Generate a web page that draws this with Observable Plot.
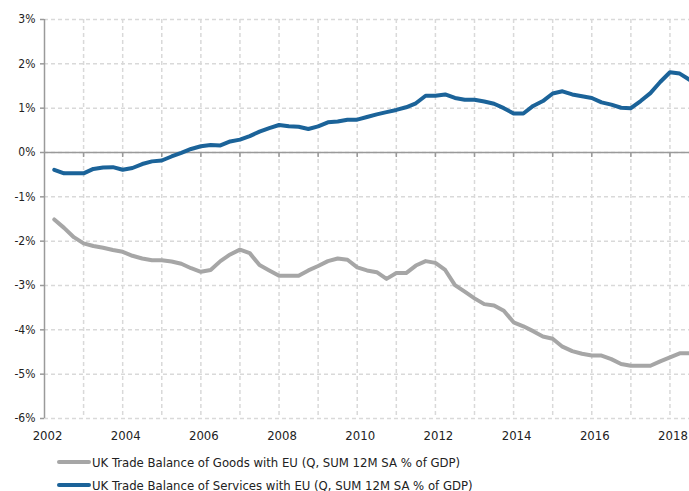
<!DOCTYPE html>
<html>
<head>
<meta charset="utf-8">
<script src="https://cdn.jsdelivr.net/npm/d3@7"></script>
<script src="https://cdn.jsdelivr.net/npm/@observablehq/plot@0.6"></script>
<style>
  html, body { margin: 0; padding: 0; background: #fff; }
  #wrap { width: 689px; height: 491px; overflow: hidden; position: relative; font-family: "DejaVu Sans Condensed", "DejaVu Sans", sans-serif; color: #222; }
  .legend { position: absolute; left: 0; width: 689px; }
  .row { position: absolute; left: 57px; height: 20px; display: flex; align-items: center; font-size: 13px; white-space: nowrap; }
  .sw { width: 34px; height: 4px; border-radius: 2px; margin-right: 1px; }
</style>
</head>
<body>
<div id="wrap"></div>
<script>
const quarters = [
  2002.25, 2002.5, 2002.75,
  2003, 2003.25, 2003.5, 2003.75,
  2004, 2004.25, 2004.5, 2004.75,
  2005, 2005.25, 2005.5, 2005.75,
  2006, 2006.25, 2006.5, 2006.75,
  2007, 2007.25, 2007.5, 2007.75,
  2008, 2008.25, 2008.5, 2008.75,
  2009, 2009.25, 2009.5, 2009.75,
  2010, 2010.25, 2010.5, 2010.75,
  2011, 2011.25, 2011.5, 2011.75,
  2012, 2012.25, 2012.5, 2012.75,
  2013, 2013.25, 2013.5, 2013.75,
  2014, 2014.25, 2014.5, 2014.75,
  2015, 2015.25, 2015.5, 2015.75,
  2016, 2016.25, 2016.5, 2016.75,
  2017, 2017.25, 2017.5, 2017.75,
  2018, 2018.25, 2018.5
];
const goods = [
  -1.51, -1.70, -1.91,
  -2.05, -2.11, -2.15, -2.20,
  -2.24, -2.33, -2.39, -2.43,
  -2.43, -2.46, -2.51, -2.61,
  -2.69, -2.65, -2.45, -2.30,
  -2.19, -2.27, -2.54, -2.66,
  -2.78, -2.78, -2.78, -2.66,
  -2.56, -2.45, -2.39, -2.42,
  -2.59, -2.66, -2.70, -2.85,
  -2.72, -2.72, -2.55, -2.45,
  -2.49, -2.65, -2.99, -3.14,
  -3.29, -3.42, -3.45, -3.57,
  -3.83, -3.92, -4.03, -4.15,
  -4.20, -4.38, -4.48, -4.54,
  -4.58, -4.58, -4.66, -4.77,
  -4.81, -4.81, -4.81, -4.71,
  -4.62, -4.53, -4.53
];
const services = [
  -0.39, -0.47, -0.47,
  -0.47, -0.37, -0.34, -0.33,
  -0.39, -0.35, -0.26, -0.20,
  -0.18, -0.09, -0.01, 0.08,
  0.14, 0.17, 0.16, 0.25,
  0.29, 0.37, 0.47, 0.55,
  0.62, 0.59, 0.58, 0.53,
  0.59, 0.68, 0.70, 0.74,
  0.74, 0.80, 0.86, 0.91,
  0.96, 1.02, 1.11, 1.28,
  1.28, 1.31, 1.23, 1.19,
  1.19, 1.15, 1.10, 1.00,
  0.88, 0.88, 1.05, 1.16,
  1.33, 1.38, 1.31, 1.27,
  1.23, 1.13, 1.08, 1.01,
  1.00, 1.16, 1.34, 1.59,
  1.81, 1.78, 1.64
];
const gridYears = [2003, 2004, 2005, 2006, 2007, 2008, 2009, 2010, 2011, 2012, 2013, 2014, 2015, 2016, 2017, 2018];
const labelYears = [2002, 2004, 2006, 2008, 2010, 2012, 2014, 2016, 2018];
const yTicks = [3, 2, 1, 0, -1, -2, -3, -4, -5, -6];
const seriesNames = [
  "UK Trade Balance of Goods with EU (Q, SUM 12M SA % of GDP)",
  "UK Trade Balance of Services with EU (Q, SUM 12M SA % of GDP)"
];
const colors = ["#a6a6a6", "#1b6399"];

const goodsData = quarters.map((q, i) => ({x: q, y: goods[i]}));
const servicesData = quarters.map((q, i) => ({x: q, y: services[i]}));

const axisColor = "#9a9a9a";
const gridColor = "#d9d9d9";

const chart = Plot.plot({
  width: 689,
  height: 450,
  marginLeft: 44,
  marginRight: 0,
  marginTop: 19,
  marginBottom: 32,
  style: {fontFamily: "'DejaVu Sans Condensed', 'DejaVu Sans', sans-serif", fontSize: "12px", color: "#222", background: "transparent", overflow: "visible"},
  x: {domain: [2002, 2018.5]},
  y: {domain: [-6, 3]},
  marks: [
    Plot.gridX(gridYears, {stroke: gridColor, strokeOpacity: 1, strokeWidth: 1.5, strokeDasharray: "4,3"}),
    Plot.gridY(yTicks, {stroke: gridColor, strokeOpacity: 1, strokeWidth: 1.5, strokeDasharray: "4,3"}),
    Plot.ruleY([0], {stroke: axisColor, strokeWidth: 1.5}),
    Plot.ruleX(gridYears, {y1: 0, y2: 0, insetBottom: -5, stroke: axisColor, strokeWidth: 1.5}),
    Plot.ruleX([2002], {stroke: axisColor, strokeWidth: 1.5}),
    Plot.axisY(yTicks, {tickSize: 4, tickPadding: 5, stroke: axisColor, strokeWidth: 1.5, tickFormat: d => `${d}%`, fill: "#222", label: null, fontSize: 12}),
    Plot.axisX(labelYears, {tickSize: 0, tickPadding: 12, dx: 3, tickFormat: d => String(d), fill: "#222", label: null, fontSize: 13}),
    Plot.line(goodsData, {x: "x", y: "y", stroke: colors[0], strokeWidth: 4}),
    Plot.line(servicesData, {x: "x", y: "y", stroke: colors[1], strokeWidth: 4})
  ]
});

const wrap = document.getElementById("wrap");
wrap.appendChild(chart);
const legend = document.createElement("div");
legend.className = "legend";
seriesNames.forEach((name, i) => {
  const row = document.createElement("div");
  row.className = "row";
  row.style.top = (452 + i * 23) + "px";
  const sw = document.createElement("span");
  sw.className = "sw";
  sw.style.background = colors[i];
  const t = document.createElement("span");
  t.textContent = name;
  row.appendChild(sw);
  row.appendChild(t);
  legend.appendChild(row);
});
legend.style.top = "0px";
wrap.appendChild(legend);
</script>
</body>
</html>
